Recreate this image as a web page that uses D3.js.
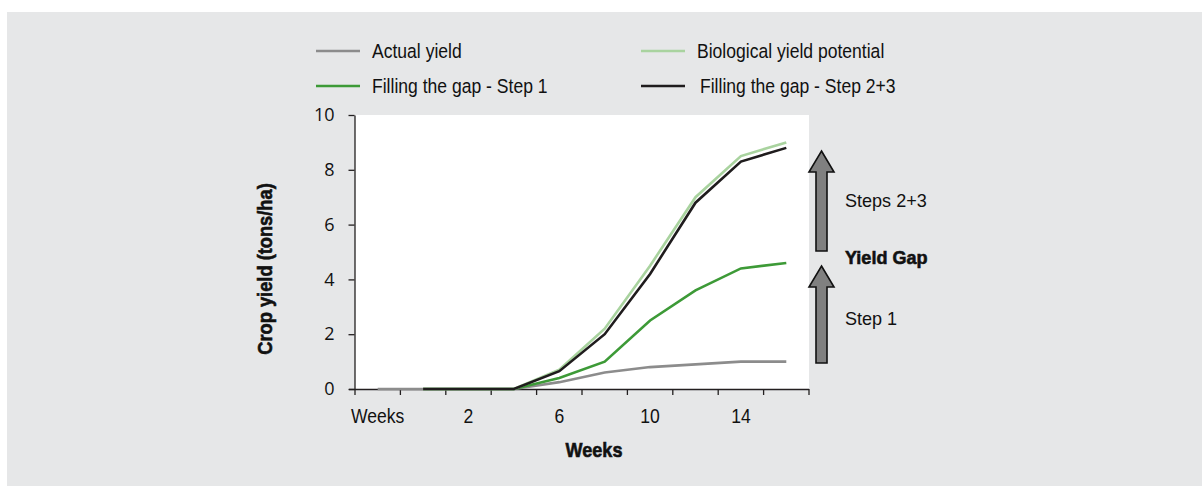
<!DOCTYPE html>
<html>
<head>
<meta charset="utf-8">
<script src="https://cdn.jsdelivr.net/npm/d3@7"></script>
<style>
  html, body { margin: 0; padding: 0; background: #fff; }
  svg { display: block; }
  .narrow { font-family: "Liberation Sans", Arial, sans-serif; fill: #111; }
  .heavy { stroke: #111; stroke-width: 0.6px; }
</style>
</head>
<body>
<svg id="chart" width="1202" height="486"></svg>
<script>
// categories on the x axis (Excel style category axis)
const weeks = ["Weeks", "0", "2", "4", "6", "8", "10", "12", "14", "16"];
const shownLabels = ["Weeks", "2", "6", "10", "14"];
const yTicks = [0, 2, 4, 6, 8, 10];

// series values, null = no point
const actualYield     = [0, 0, 0, 0, 0.25, 0.6, 0.8, 0.9, 1.0, 1.0];
const biological      = [null, 0, 0, 0, 0.7, 2.2, 4.5, 7.0, 8.5, 9.0];
const fillStep1       = [null, 0, 0, 0, 0.4, 1.0, 2.5, 3.6, 4.4, 4.6];
const fillStep23      = [null, 0, 0, 0, 0.65, 2.0, 4.2, 6.8, 8.3, 8.8];

const seriesNames  = ["Actual yield", "Biological yield potential", "Filling the gap - Step 1", "Filling the gap - Step 2+3"];
const seriesColors = ["#8c8c8c", "#a9d39f", "#3d9a37", "#1f1c1d"];
const seriesValues = [actualYield, biological, fillStep1, fillStep23];

// condensed look: squeeze Liberation Sans horizontally
function narrowText(sel, x, y, size, sx, weight) {
    return sel.append('text')
        .attr('class', 'narrow' + (weight === 'bold' ? ' heavy' : ''))
        .attr('transform', `translate(${x},${y}) scale(${sx},1)`)
        .style('font-size', size + 'px')
        .style('font-weight', weight || 'normal');
}

(function () {
    const svg = d3.select('#chart');

    // gray panel
    svg.append('rect')
        .attr('x', 7).attr('y', 12)
        .attr('width', 1195).attr('height', 474)
        .attr('fill', '#e6e7e8');

    const left = 355, right = 809, top = 115, bottom = 389;

    const x = d3.scaleBand().domain(weeks).range([left, right]).padding(0);
    const y = d3.scaleLinear().domain([0, 10]).range([bottom, top]);

    // white plot area
    svg.append('rect')
        .attr('x', left).attr('y', top)
        .attr('width', right - left).attr('height', bottom - top)
        .attr('fill', '#fff');

    // y axis
    const yAxis = svg.append('g')
        .attr('transform', `translate(${left - 0.5},0)`)
        .call(d3.axisLeft(y).tickValues(yTicks).tickSize(6).tickPadding(14).tickSizeOuter(0));
    yAxis.select('.domain').attr('stroke', '#231f20').attr('stroke-width', 1.3);
    yAxis.selectAll('.tick line').attr('stroke', '#231f20').attr('stroke-width', 1.3);
    yAxis.selectAll('.tick text')
        .style('font-family', '"Open Sans", "Noto Sans", sans-serif')
        .style('font-size', '18px')
        .attr('fill', '#111');

    // x axis labels at band centers, every other category
    const xLabels = weeks.filter(d => shownLabels.includes(d));
    xLabels.forEach(d => {
        narrowText(svg, x(d) + x.bandwidth() / 2, 423, 19.5, 0.9)
            .attr('text-anchor', 'middle')
            .text(d);
    });

    // x axis line and ticks between categories
    const xBounds = weeks.map(d => x(d)).concat([x.range()[1]]);
    svg.append('line')
        .attr('x1', left - 6).attr('x2', right)
        .attr('y1', bottom + 0.5).attr('y2', bottom + 0.5)
        .attr('stroke', '#231f20').attr('stroke-width', 1.3);
    svg.selectAll('.xtick')
        .data(xBounds)
        .enter().append('line')
        .attr('class', 'xtick')
        .attr('x1', d => d).attr('x2', d => d)
        .attr('y1', bottom).attr('y2', bottom + 6)
        .attr('stroke', '#231f20').attr('stroke-width', 1.3);

    // lines
    const line = d3.line()
        .defined(d => d !== null)
        .x((d, i) => x(weeks[i]) + x.bandwidth() / 2)
        .y(d => y(d));

    const order = [0, 2, 1, 3];
    svg.selectAll('.series')
        .data(order)
        .enter().append('path')
        .attr('class', 'series')
        .attr('fill', 'none')
        .attr('stroke', i => seriesColors[i])
        .attr('stroke-width', 2.6)
        .attr('stroke-linejoin', 'miter')
        .attr('d', i => line(seriesValues[i]));

    // legend
    const legendPos = [[316, 51, 372], [641, 51, 697], [316, 86, 372], [641, 86, 700]];
    seriesNames.forEach((name, i) => {
        const p = legendPos[i];
        svg.append('line')
            .attr('x1', p[0]).attr('x2', p[0] + 44)
            .attr('y1', p[1]).attr('y2', p[1])
            .attr('stroke', seriesColors[i])
            .attr('stroke-width', 2.6);
        narrowText(svg, p[2], p[1] + 7, 19.5, 0.9).text(name);
    });

    // axis titles
    svg.append('text')
        .attr('class', 'narrow heavy')
        .attr('transform', 'translate(272,269) rotate(-90) scale(0.87,1)')
        .attr('text-anchor', 'middle')
        .style('font-size', '21px')
        .style('font-weight', 'bold')
        .text('Crop yield (tons/ha)');
    narrowText(svg, 594, 457, 21, 0.86, 'bold')
        .attr('text-anchor', 'middle')
        .text('Weeks');

    // yield gap arrows
    function arrow(xc, tipY, baseY, headY) {
        const hw = 12.5, sw = 5.5;
        return `M${xc},${tipY} L${xc + hw},${headY} L${xc + sw},${headY} L${xc + sw},${baseY}
                L${xc - sw},${baseY} L${xc - sw},${headY} L${xc - hw},${headY} Z`;
    }
    svg.append('path')
        .attr('d', arrow(821.5, 151, 251, 172))
        .attr('fill', '#808080').attr('stroke', '#111').attr('stroke-width', 1.6);
    svg.append('path')
        .attr('d', arrow(821.5, 266, 363, 287))
        .attr('fill', '#808080').attr('stroke', '#111').attr('stroke-width', 1.6);

    const notes = [['Steps 2+3', 206.5, 'normal'], ['Yield Gap', 263.5, 'bold'], ['Step 1', 324.5, 'normal']];
    notes.forEach(n => {
        narrowText(svg, 845, n[1], 19, 0.95, n[2]).text(n[0]);
    });
}());
</script>
</body>
</html>
